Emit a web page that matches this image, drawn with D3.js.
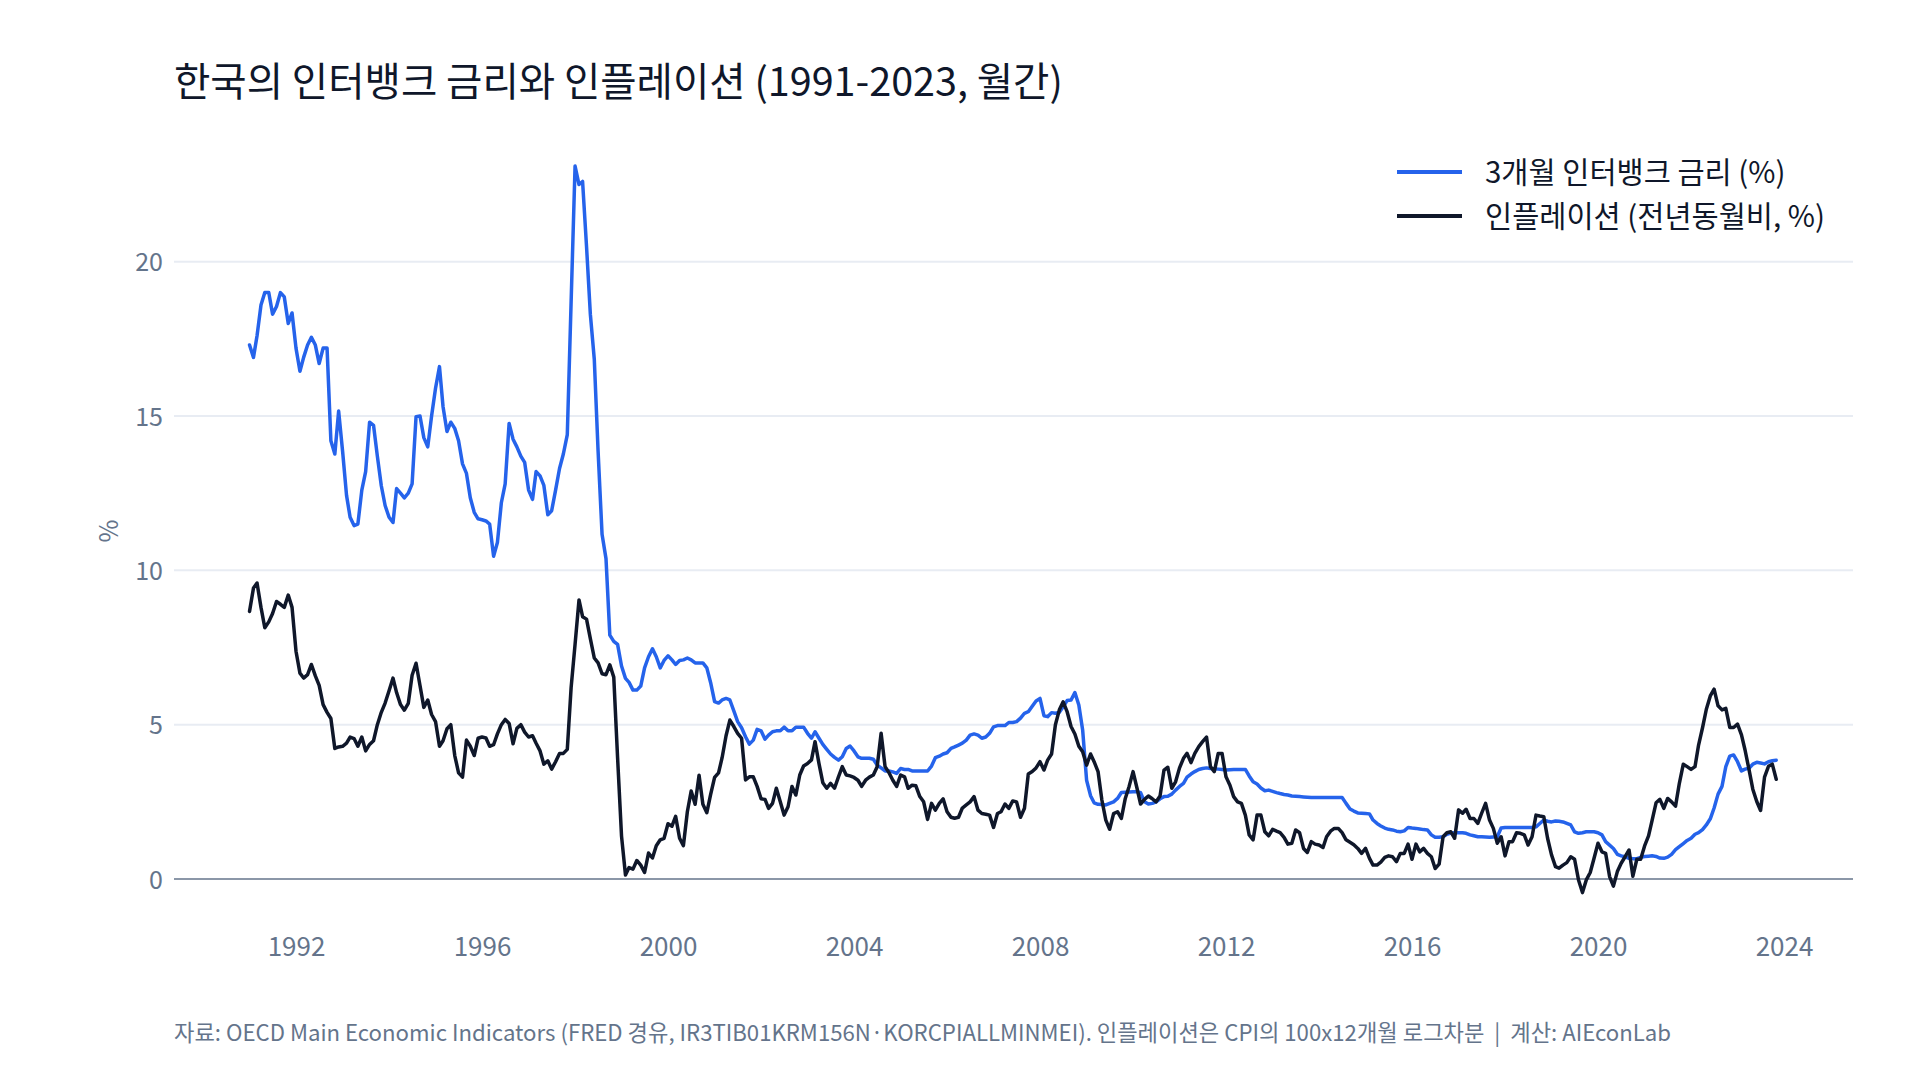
<!DOCTYPE html>
<html><head><meta charset="utf-8">
<script src="https://cdn.jsdelivr.net/npm/d3@7"></script>
<style>
body{margin:0;background:#fff;}
svg{display:block;}
text{font-family:"Noto Sans CJK KR","Noto Sans",sans-serif;}
</style>
</head><body>
<svg id="chart" width="1920" height="1080"></svg>
<script>
// ---- data (monthly, starting January 1991) ----
const startYear = 1991;
const interbankRate = [
17.3,16.9,17.6,18.6,19.0,19.0,18.3,18.55,19.0,18.86,18.0,18.34,
17.2,16.45,16.9,17.3,17.55,17.3,16.7,17.2,17.2,14.2,13.77,15.16,
13.86,12.43,11.72,11.45,11.5,12.6,13.2,14.8,14.7,13.7,12.74,12.1,
11.72,11.55,12.65,12.5,12.35,12.5,12.8,14.98,15.0,14.3,14.0,15.0,
15.9,16.6,15.3,14.5,14.8,14.6,14.2,13.45,13.14,12.35,11.88,11.67,
11.64,11.6,11.5,10.46,10.9,12.19,12.8,14.76,14.25,14.0,13.7,13.5,
12.6,12.3,13.2,13.06,12.75,11.8,11.93,12.6,13.3,13.77,14.4,18.7,
23.1,22.5,22.6,20.5,18.3,16.84,13.85,11.17,10.38,7.9,7.7,7.6,
6.9,6.5,6.37,6.12,6.12,6.25,6.84,7.2,7.46,7.2,6.84,7.08,
7.23,7.1,6.95,7.08,7.1,7.16,7.1,7.0,7.0,7.0,6.84,6.36,
5.75,5.7,5.8,5.85,5.8,5.45,5.1,4.9,4.61,4.37,4.5,4.85,
4.8,4.53,4.66,4.77,4.8,4.8,4.92,4.8,4.8,4.92,4.92,4.92,
4.72,4.56,4.77,4.56,4.36,4.2,4.05,3.94,3.85,3.96,4.23,4.31,
4.15,3.96,3.91,3.91,3.91,3.88,3.69,3.6,3.5,3.5,3.47,3.42,
3.58,3.55,3.55,3.5,3.5,3.5,3.5,3.5,3.66,3.93,3.98,4.05,
4.09,4.23,4.28,4.34,4.4,4.5,4.66,4.7,4.66,4.56,4.6,4.72,
4.93,4.97,4.97,4.97,5.07,5.07,5.1,5.21,5.37,5.42,5.6,5.77,
5.85,5.29,5.26,5.39,5.37,5.4,5.58,5.78,5.8,6.04,5.64,4.83,
3.2,2.7,2.47,2.42,2.41,2.4,2.45,2.5,2.61,2.8,2.81,2.82,
2.83,2.83,2.8,2.5,2.43,2.45,2.5,2.6,2.67,2.68,2.75,2.88,
3.0,3.1,3.3,3.4,3.48,3.55,3.58,3.6,3.58,3.57,3.56,3.55,
3.53,3.54,3.55,3.55,3.55,3.55,3.34,3.15,3.08,2.95,2.86,2.88,
2.84,2.8,2.77,2.74,2.72,2.69,2.68,2.67,2.66,2.65,2.64,2.64,
2.64,2.64,2.64,2.64,2.64,2.64,2.64,2.45,2.27,2.2,2.14,2.13,
2.12,2.11,1.91,1.8,1.72,1.65,1.61,1.59,1.55,1.53,1.56,1.67,
1.65,1.64,1.62,1.6,1.59,1.43,1.35,1.35,1.37,1.45,1.49,1.5,
1.5,1.5,1.48,1.43,1.4,1.37,1.37,1.36,1.35,1.36,1.37,1.65,
1.67,1.67,1.67,1.67,1.67,1.67,1.67,1.67,1.69,1.8,1.91,1.87,
1.85,1.88,1.87,1.85,1.8,1.75,1.53,1.48,1.5,1.53,1.53,1.53,
1.5,1.43,1.21,1.1,0.99,0.8,0.75,0.72,0.67,0.66,0.66,0.7,
0.73,0.74,0.75,0.73,0.68,0.67,0.71,0.8,0.95,1.05,1.15,1.25,
1.32,1.45,1.5,1.6,1.75,1.95,2.3,2.75,3.0,3.64,3.98,4.02,
3.8,3.5,3.56,3.59,3.72,3.78,3.76,3.73,3.8,3.83,3.85
];
const inflation = [
8.67,9.43,9.59,8.8,8.14,8.33,8.6,8.99,8.9,8.8,9.2,8.8,
7.38,6.67,6.51,6.62,6.95,6.58,6.27,5.65,5.4,5.2,4.23,4.28,
4.3,4.4,4.6,4.55,4.3,4.6,4.15,4.36,4.48,5.0,5.4,5.7,
6.1,6.51,6.04,5.65,5.47,5.69,6.6,6.99,6.27,5.56,5.8,5.33,
5.1,4.3,4.48,4.87,5.0,4.0,3.44,3.3,4.5,4.3,4.0,4.56,
4.6,4.57,4.3,4.35,4.7,5.0,5.17,5.04,4.38,4.88,5.0,4.76,
4.6,4.64,4.4,4.15,3.72,3.83,3.56,3.8,4.07,4.07,4.2,6.2,
7.6,9.04,8.5,8.42,7.79,7.16,7.0,6.65,6.62,6.94,6.54,3.93,
1.39,0.13,0.37,0.32,0.6,0.45,0.21,0.84,0.68,1.08,1.27,1.32,
1.79,1.71,2.03,1.32,1.08,2.18,2.85,2.42,3.36,2.42,2.15,2.74,
3.29,3.44,3.93,4.64,5.15,4.94,4.72,4.56,3.21,3.31,3.31,3.0,
2.6,2.58,2.29,2.45,2.94,2.5,2.07,2.34,3.0,2.72,3.37,3.66,
3.74,3.86,4.45,3.74,3.12,2.94,3.1,2.94,3.31,3.64,3.37,3.34,
3.29,3.2,3.0,3.2,3.3,3.37,3.64,4.72,3.64,3.45,3.2,3.0,
3.37,3.31,2.94,3.04,3.02,2.67,2.5,1.93,2.45,2.23,2.45,2.6,
2.18,2.0,1.97,2.0,2.3,2.4,2.5,2.67,2.23,2.12,2.1,2.07,
1.67,2.12,2.18,2.43,2.29,2.53,2.5,2.0,2.29,3.4,3.48,3.6,
3.8,3.53,3.85,4.05,5.0,5.48,5.74,5.42,4.94,4.7,4.3,4.12,
3.69,4.05,3.8,3.48,2.56,1.91,1.61,2.12,2.18,1.96,2.61,3.0,
3.48,2.94,2.43,2.58,2.69,2.6,2.5,2.69,3.53,3.62,2.94,3.15,
3.6,3.91,4.07,3.77,4.07,4.29,4.45,4.6,3.64,3.48,4.07,4.07,
3.31,3.04,2.67,2.5,2.45,2.07,1.43,1.27,2.07,2.07,1.53,1.4,
1.61,1.55,1.5,1.35,1.13,1.16,1.59,1.5,0.99,0.86,1.21,1.13,
1.1,1.02,1.37,1.55,1.64,1.64,1.5,1.27,1.19,1.11,0.99,0.83,
0.99,0.67,0.45,0.45,0.55,0.7,0.75,0.72,0.56,0.83,0.83,1.13,
0.64,1.13,0.88,0.99,0.83,0.72,0.34,0.48,1.37,1.5,1.53,1.32,
2.24,2.13,2.26,1.96,1.96,1.8,2.13,2.45,1.91,1.64,1.16,1.37,
0.75,1.21,1.21,1.5,1.48,1.43,1.1,1.37,2.07,2.04,2.02,1.32,
0.78,0.4,0.35,0.45,0.53,0.72,0.64,-0.03,-0.44,-0.03,0.21,0.67,
1.16,0.88,0.83,0.08,-0.23,0.24,0.51,0.72,0.94,0.09,0.64,0.64,
1.07,1.4,1.9,2.47,2.58,2.29,2.61,2.5,2.36,3.1,3.72,3.64,
3.55,3.64,4.34,4.9,5.5,5.93,6.15,5.61,5.48,5.53,4.91,4.91,
5.02,4.67,4.18,3.55,2.91,2.51,2.22,3.3,3.65,3.72,3.23
];
const yTicks = [0, 5, 10, 15, 20];
const xTickYears = [1992, 1996, 2000, 2004, 2008, 2012, 2016, 2020, 2024];
const seriesNames = ["3개월 인터뱅크 금리 (%)", "인플레이션 (전년동월비, %)"];
const seriesColors = ["#2563eb", "#0f172a"];
const titleText = "한국의 인터뱅크 금리와 인플레이션 (1991-2023, 월간)";
const yAxisLabel = "%";
const footnoteText = "자료: OECD Main Economic Indicators (FRED 경유, IR3TIB01KRM156N·KORCPIALLMINMEI). 인플레이션은 CPI의 100x12개월 로그차분  |  계산: AIEconLab";

// ---- layout ----
const svg = d3.select("#chart");
const plotLeft = 174, plotRight = 1853;
const x = d3.scaleTime()
  .domain([new Date(1992, 0, 1), new Date(2024, 0, 1)])
  .range([296, 1784]);
const y = d3.scaleLinear().domain([0, 20]).range([879, 261.7]);

const series = [interbankRate, inflation].map((vals, k) => ({
  name: seriesNames[k], color: seriesColors[k],
  points: vals.map((v, i) => ({ date: new Date(startYear, i, 1), value: v }))
}));

const muted = "#64748b";
const fontFam = '"Noto Sans CJK KR","Noto Sans",sans-serif';

// gridlines
svg.append("g").selectAll("line").data(yTicks.filter(d => d !== 0)).join("line")
  .attr("x1", plotLeft).attr("x2", plotRight)
  .attr("y1", d => y(d)).attr("y2", d => y(d))
  .attr("stroke", "#e8ecf3").attr("stroke-width", 2);

// y axis labels
const yAxis = d3.axisLeft(y).tickValues(yTicks).tickSize(0).tickPadding(0);
const gy = svg.append("g").attr("transform", `translate(${plotLeft - 11},1)`).call(yAxis);
gy.select(".domain").remove();
gy.selectAll("text").attr("fill", muted).attr("font-size", 25).style("font-family", fontFam);

// x axis labels
const xAxis = d3.axisBottom(x).tickValues(xTickYears.map(yr => new Date(yr, 0, 1)))
  .tickFormat(d3.timeFormat("%Y")).tickSize(0).tickPadding(0);
const gx = svg.append("g").attr("transform", `translate(0,${938})`).call(xAxis);
gx.select(".domain").remove();
gx.selectAll("text").attr("fill", muted).attr("font-size", 26).style("font-family", fontFam);

// zero line
svg.append("line").attr("x1", plotLeft).attr("x2", plotRight)
  .attr("y1", y(0)).attr("y2", y(0)).attr("stroke", "#64748b").attr("stroke-width", 1.6);

// series lines
const line = d3.line().x(d => x(d.date)).y(d => y(d.value));
svg.append("g").selectAll("path").data(series).join("path")
  .attr("d", d => line(d.points))
  .attr("fill", "none").attr("stroke", d => d.color)
  .attr("stroke-width", 3.5).attr("stroke-linejoin", "round").attr("stroke-linecap", "round");

// y axis title
svg.append("text").attr("transform", `translate(111,531) rotate(-90)`)
  .attr("text-anchor", "middle").attr("dominant-baseline", "middle")
  .attr("fill", muted).attr("font-size", 25).text(yAxisLabel);

// title
svg.append("text").attr("x", 174).attr("y", 85).attr("dominant-baseline", "middle")
  .attr("fill", "#0f172a").attr("font-size", 39.5).text(titleText);

// legend
const lg = svg.append("g").selectAll("g").data(series).join("g")
  .attr("transform", (d, i) => `translate(1397,${172 + i * 44})`);
lg.append("line").attr("x1", 0).attr("x2", 65).attr("y1", 0).attr("y2", 0)
  .attr("stroke", d => d.color).attr("stroke-width", 4);
lg.append("text").attr("x", 88).attr("y", 3).attr("dominant-baseline", "middle")
  .attr("fill", "#0f172a").attr("font-size", 29.5).text(d => d.name);

// footnote
svg.append("text").attr("x", 174).attr("y", 1035).attr("dominant-baseline", "middle")
  .attr("fill", muted).attr("font-size", 22.2).style("white-space", "pre").text(footnoteText);
</script>
</body></html>
